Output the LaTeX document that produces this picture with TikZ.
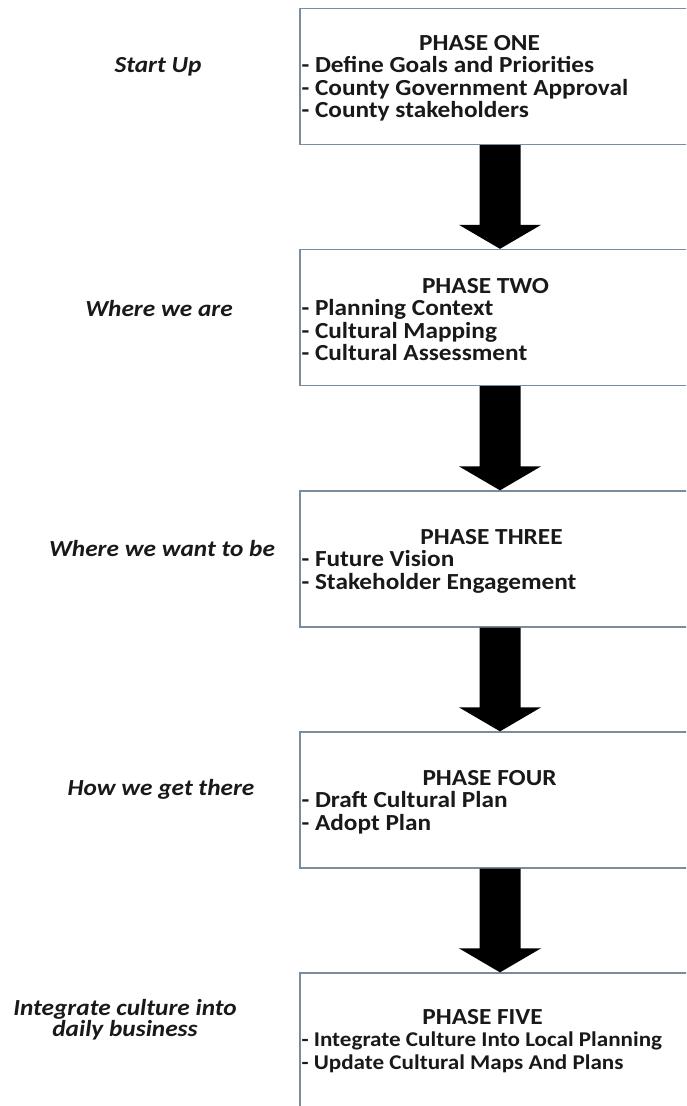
\documentclass[tikz,border=0pt]{standalone}
\usepackage{fontspec}
\setmainfont{Carlito}[FakeStretch=1.1]
\usetikzlibrary{
	positioning,
	calc
}

\definecolor{boxline}{RGB}{122,140,158}
\definecolor{ink}{RGB}{25,25,25}

\newcommand{\smallitem}{\fontsize{21}{21}\selectfont}

\begin{document}
\begin{tikzpicture}[
		x=1pt, y=-1pt,
		phase/.style={
			draw=boxline,
			line width=1.3pt,
			rectangle,
			minimum width = 400pt,
			minimum height = 136pt
		},
		items/.style={
			text=ink,
			font=\fontsize{23}{22.5}\selectfont\bfseries,
			align=left,
			anchor=west,
			xshift=2pt,
			yshift=-2pt,
			inner sep=0pt
		},
		stage/.style={
			text=ink,
			font=\fontsize{23}{21}\selectfont\bfseries\itshape,
			align=center,
			inner sep=0pt
		},
		bigarrow/.style={
			fill=black
		}
	]
	
	\useasboundingbox (0,0) rectangle (686,1106);
	\clip (0,0) rectangle (686,1106);
	
	% phase boxes, running off to the right
	\node[phase] (P1) at (500,76.5) {};
	\node[phase] (P2) at (500,317.5) {};
	\node[phase] (P3) at (500,559) {};
	\node[phase] (P4) at (500,800) {};
	\node[phase] (P5) at (500,1041) {};
	
	% heading centred over a left aligned list
	\node[items] (L1) at (P1.west) {\makebox[356pt]{PHASE ONE}\\- Define Goals and Priorities\\- County Government Approval\\- County stakeholders};
	\node[items] (L2) at (P2.west) {\makebox[368pt]{PHASE TWO}\\- Planning Context\\- Cultural Mapping\\- Cultural Assessment};
	\node[items] (L3) at (P3.west) {\makebox[380pt]{PHASE THREE}\\- Future Vision\\- Stakeholder Engagement};
	\node[items] (L4) at (P4.west) {\makebox[376pt]{PHASE FOUR}\\- Draft Cultural Plan\\- Adopt Plan};
	\node[items] (L5) at ($(P5.west)+(0,-2)$) {\makebox[362pt]{PHASE FIVE}\\\smallitem - Integrate Culture Into Local Planning\\\smallitem - Update Cultural Maps And Plans};
	
	% what each phase stands for
	\node[stage] (S1) at (158,67) {Start Up};
	\node[stage] (S2) at (159,309) {Where we are};
	\node[stage] (S3) at (162,549) {Where we want to be};
	\node[stage] (S4) at (161,789) {How we get there};
	\node[stage] (S5) at (125,1020) {Integrate culture into\\daily business};
	
	% block arrows between the phases
	\fill[bigarrow] ($(P1.south)+(-20.5,0)$) -- ($(P2.north)+(-20.5,-24)$) -- ($(P2.north)+(-41,-24)$) -- (P2.north)
		-- ($(P2.north)+(41,-24)$) -- ($(P2.north)+(20.5,-24)$) -- ($(P1.south)+(20.5,0)$) -- cycle;
	\fill[bigarrow] ($(P2.south)+(-20.5,0)$) -- ($(P3.north)+(-20.5,-24)$) -- ($(P3.north)+(-41,-24)$) -- (P3.north)
		-- ($(P3.north)+(41,-24)$) -- ($(P3.north)+(20.5,-24)$) -- ($(P2.south)+(20.5,0)$) -- cycle;
	\fill[bigarrow] ($(P3.south)+(-20.5,0)$) -- ($(P4.north)+(-20.5,-24)$) -- ($(P4.north)+(-41,-24)$) -- (P4.north)
		-- ($(P4.north)+(41,-24)$) -- ($(P4.north)+(20.5,-24)$) -- ($(P3.south)+(20.5,0)$) -- cycle;
	\fill[bigarrow] ($(P4.south)+(-20.5,0)$) -- ($(P5.north)+(-20.5,-24)$) -- ($(P5.north)+(-41,-24)$) -- (P5.north)
		-- ($(P5.north)+(41,-24)$) -- ($(P5.north)+(20.5,-24)$) -- ($(P4.south)+(20.5,0)$) -- cycle;
\end{tikzpicture}
\end{document}
